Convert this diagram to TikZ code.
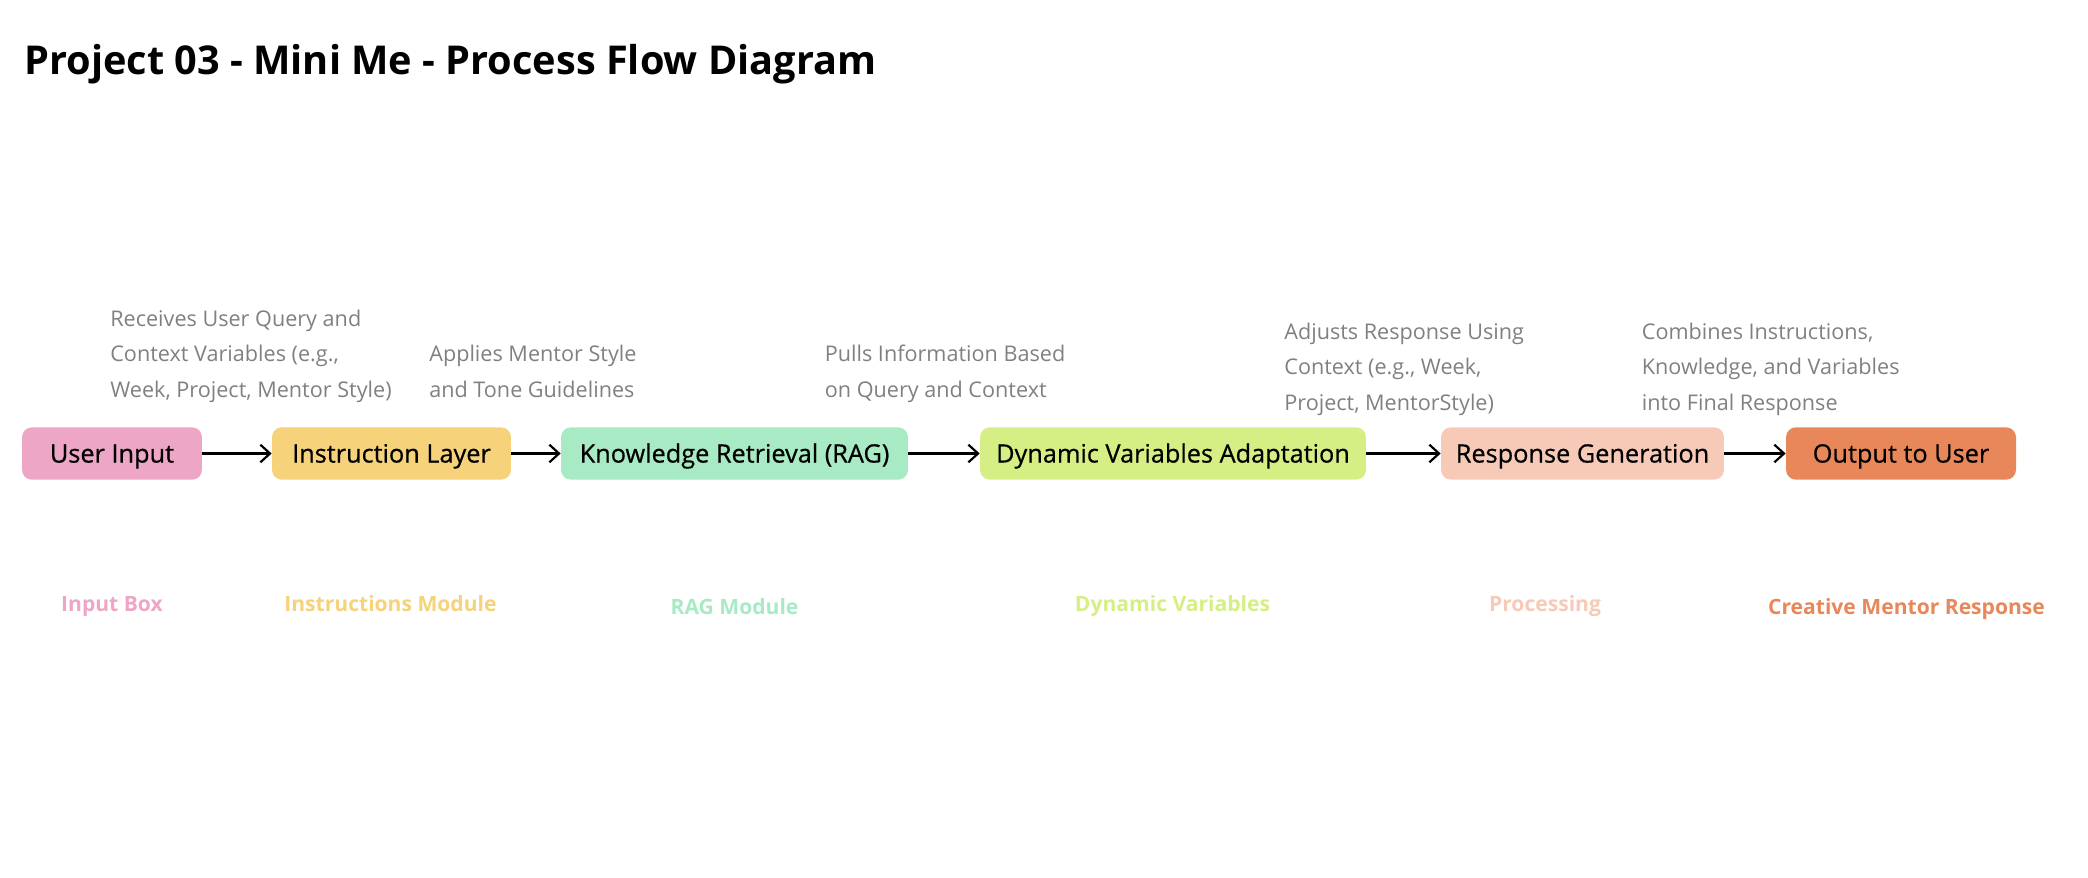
\documentclass[tikz,border=0pt]{standalone}
\usepackage{fontspec}
\setmainfont{Open Sans}
\newfontfamily\stagefont[FakeBold=0.6]{Open Sans}
\usetikzlibrary{arrows.meta}
\usepackage{xcolor}
\definecolor{Ink}{HTML}{000000}
\definecolor{Note}{HTML}{808080}
\definecolor{PinkBox}{HTML}{EDA6C5}
\definecolor{SandBox}{HTML}{F6D27B}
\definecolor{MintBox}{HTML}{A7EAC4}
\definecolor{LimeBox}{HTML}{D5EF84}
\definecolor{PeachBox}{HTML}{F7CAB8}
\definecolor{CoralBox}{HTML}{E8875A}

\begin{document}
\begin{tikzpicture}[x=0.02cm,y=-0.02cm,>={Straight Barb[length=5.5pt,width=10pt]},
  stage/.style={rounded corners=0.2cm,minimum height=1.05cm,inner sep=0pt,
    font=\stagefont\fontsize{14.4}{17}\selectfont,text=Ink,text height=10.3pt,text depth=0pt},
  note/.style={anchor=base west,align=left,inner sep=0pt,text=Note,
    font=\fontsize{12.3}{20.2}\selectfont},
  tag/.style={anchor=base,inner sep=0pt,font=\fontsize{12}{14}\selectfont\bfseries},
  flow/.style={->,line width=1.25pt,Ink}]
\useasboundingbox (0,0) rectangle (2088,878);
\node[anchor=base west,inner sep=0pt,font=\fontsize{22.6}{27}\selectfont\bfseries] (title) at (24,75) {Project 03 - Mini Me - Process Flow Diagram};
% stages
\node[stage,fill=PinkBox,minimum width=3.6cm] (input) at (112,453.5) {User Input};
\node[stage,fill=SandBox,minimum width=4.78cm] (instr) at (391.5,453.5) {Instruction Layer};
\node[stage,fill=MintBox,minimum width=6.94cm] (rag) at (734.5,453.5) {Knowledge Retrieval (RAG)};
\node[stage,fill=LimeBox,minimum width=7.72cm] (dynvar) at (1173,453.5) {Dynamic Variables Adaptation};
\node[stage,fill=PeachBox,minimum width=5.66cm] (respgen) at (1582.5,453.5) {Response Generation};
\node[stage,fill=CoralBox,minimum width=4.6cm] (output) at (1901,453.5) {Output to User};
% flow
\draw[flow] (input) -- (instr);
\draw[flow] (instr) -- (rag);
\draw[flow] (rag) -- (dynvar);
\draw[flow] (dynvar) -- (respgen);
\draw[flow] (respgen) -- (output);
% notes above (base = last line)
\node[note] (dInput) at (110,397) {Receives User Query and\\Context Variables (e.g.,\\Week, Project, Mentor Style)};
\node[note] (dInstr) at (429,397) {Applies Mentor Style\\and Tone Guidelines};
\node[note] (dRag) at (824.5,397) {Pulls Information Based\\on Query and Context};
\node[note] (dDynvar) at (1284,410) {Adjusts Response Using\\Context (e.g., Week,\\Project, MentorStyle)};
\node[note] (dRespgen) at (1641.5,410) {Combines Instructions,\\Knowledge, and Variables\\into Final Response};
% tags below
\node[tag,text=PinkBox] (tInput) at (112,611) {Input Box};
\node[tag,text=SandBox] (tInstr) at (390.5,611) {Instructions Module};
\node[tag,text=MintBox] (tRag) at (734.5,614) {RAG Module};
\node[tag,text=LimeBox] (tDynvar) at (1172.5,611) {Dynamic Variables};
\node[tag,text=PeachBox] (tRespgen) at (1545,611) {Processing};
\node[tag,text=CoralBox] (tOutput) at (1906.5,614) {Creative Mentor Response};
\end{tikzpicture}
\end{document}
